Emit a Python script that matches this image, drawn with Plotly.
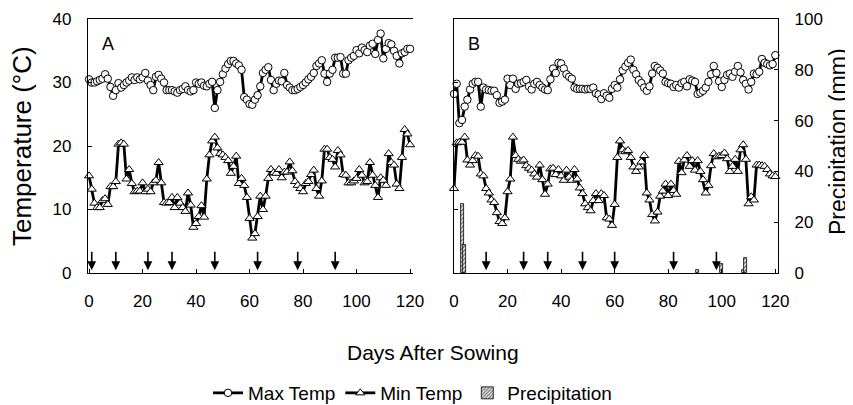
import plotly.graph_objects as go

# ---------------- data ----------------
days = list(range(0, 121))

max_temp_A = [30.5,30.0,30.0,30.2,30.4,30.6,31.3,30.6,29.3,27.9,
              28.8,29.9,29.2,29.6,30.0,30.3,30.8,30.4,30.8,30.5,
              30.8,31.5,30.3,29.6,28.8,30.9,31.2,30.6,30.0,28.8,
              28.8,28.8,28.6,28.4,28.8,29.0,29.4,28.8,28.6,28.8,
              30.0,29.8,30.0,29.5,29.4,29.8,30.1,26.0,28.8,30.1,
              31.3,32.2,32.9,33.4,33.4,33.0,32.7,32.0,27.7,27.3,
              26.6,26.5,27.3,28.0,29.4,31.5,32.0,32.4,30.4,28.8,
              29.8,30.3,30.2,31.5,29.6,29.2,28.8,28.8,29.0,29.3,
              29.6,30.0,30.5,30.9,31.5,32.6,33.0,33.5,31.4,30.1,
              31.4,32.0,33.9,33.9,34.0,31.4,31.4,33.5,33.9,34.2,
              35.1,34.6,35.5,35.1,34.8,35.8,36.1,34.5,36.7,37.7,
              33.8,35.3,36.2,36.0,35.0,34.2,33.0,34.6,34.8,35.3,
              35.3]

min_temp_A = [15.3,13.2,11.0,10.3,10.3,11.4,11.7,10.8,13.6,13.6,
              14.4,20.3,20.5,20.3,14.8,16.3,14.1,12.8,12.9,12.9,
              14.2,12.8,13.2,12.8,14.2,14.6,17.4,14.2,11.1,11.0,
              11.1,11.9,10.3,11.9,11.0,10.3,9.7,12.6,10.7,7.2,
              7.8,8.9,10.6,8.8,14.8,18.6,20.8,21.4,19.7,18.8,
              18.6,18.2,17.7,15.7,16.8,18.4,14.1,14.9,13.8,11.9,
              8.6,5.5,6.2,8.9,12.1,10.0,12.1,14.9,16.3,15.8,
              15.7,16.3,15.0,15.9,15.9,17.5,16.1,14.4,13.8,13.3,
              12.8,14.1,14.4,15.5,16.2,13.3,12.1,14.5,19.5,19.5,
              18.2,17.9,16.7,19.3,18.6,15.5,15.4,14.2,14.2,14.5,
              14.9,16.3,15.4,14.2,14.4,17.4,15.4,13.8,11.9,15.0,
              14.6,13.8,18.8,17.4,17.0,14.0,13.3,18.2,22.6,21.9,
              20.2]

max_temp_B = [28.2,29.8,23.6,24.1,26.2,27.3,28.9,29.8,30.1,30.1,
              26.2,29.2,28.9,28.8,28.7,28.7,28.0,26.8,27.0,27.3,
              30.6,29.6,30.6,29.0,29.8,29.9,30.1,30.4,29.4,28.9,
              29.8,30.1,29.6,29.2,28.9,28.8,30.5,32.2,31.5,33.1,
              33.0,32.2,31.3,30.9,30.6,29.2,29.0,29.0,29.0,28.9,
              29.0,29.0,29.2,28.3,28.1,27.4,28.3,27.9,27.6,29.0,
              29.6,29.2,30.5,31.9,32.5,33.1,33.6,32.0,31.3,30.4,
              29.9,29.2,28.7,29.4,31.4,32.6,32.3,31.9,31.4,30.1,
              29.9,29.8,29.3,29.6,29.2,29.9,30.1,29.4,30.5,30.3,
              30.1,28.2,28.4,28.7,29.2,30.1,31.3,32.6,31.5,30.2,
              29.3,30.4,31.2,31.4,30.9,31.7,32.6,31.6,30.4,29.8,
              28.9,30.1,31.4,31.3,31.7,33.7,33.1,32.9,32.7,32.9,
              34.3]

min_temp_B = [13.3,20.5,20.6,20.6,21.4,17.8,17.0,17.7,18.5,18.4,
              15.6,15.3,13.3,12.6,11.5,11.1,9.5,8.1,7.8,8.7,
              12.8,14.8,21.4,18.5,17.9,17.6,17.8,16.9,16.5,16.2,
              15.6,15.1,17.0,14.7,12.4,14.0,16.4,16.5,15.5,16.3,
              15.3,14.6,16.2,15.1,14.6,16.3,14.8,13.4,12.5,10.9,
              10.3,9.8,11.4,12.5,11.4,12.5,12.2,8.7,8.5,7.5,
              10.8,18.2,20.8,19.4,19.1,19.3,18.2,16.7,16.0,16.7,
              17.5,18.5,12.6,11.5,9.2,8.2,9.6,12.1,12.9,14.0,
              12.2,14.0,13.0,12.4,17.6,15.8,17.8,18.5,16.8,17.7,
              16.2,17.7,16.0,14.7,12.6,13.8,16.9,18.8,18.3,18.4,
              18.5,18.9,18.0,16.0,16.8,17.9,16.0,19.4,20.2,17.9,
              10.9,12.0,11.5,17.0,17.0,16.9,16.8,16.3,15.6,15.3,
              15.2]

precip_days_B = [3, 4, 91, 100, 108, 109]
precip_B = [27.0, 11.0, 1.0, 3.5, 1.0, 6.0]

arrow_days_A = [1, 10, 22, 31, 47, 63, 78, 92]
arrow_days_B = [12, 26, 35, 48, 60, 82, 98]

x_ticks = [0, 20, 40, 60, 80, 100, 120]
temp_ticks = [0, 10, 20, 30, 40]
precip_ticks = [0, 20, 40, 60, 80, 100]

# ---------------- layout helpers ----------------
# the page body has an 8px margin, so the figure is drawn 8px smaller and
# screen positions are converted to paper fractions accordingly
OFF = 8
W, H = 853 - OFF, 405 - OFF


def fx(px):
    return (px - OFF) / W


def fy(py):
    return 1 - (py - OFF) / H


FONT = "Arial, Liberation Sans, sans-serif"
dom_y = [fy(273), fy(19)]
dom_xA = [fx(88), fx(413)]
dom_xB = [fx(454), fx(778)]

line_style = dict(color="black", width=2.8)
circ = dict(symbol="circle", size=7.5, color="white", line=dict(color="black", width=1))
tri = dict(symbol="triangle-up", size=8, color="white", line=dict(color="black", width=1))

fig = go.Figure()

fig.add_trace(go.Scatter(x=days, y=max_temp_A, xaxis="x", yaxis="y", mode="lines+markers",
                         name="Max Temp", legendgroup="max", line=line_style, marker=circ,
                         cliponaxis=False))
fig.add_trace(go.Scatter(x=days, y=min_temp_A, xaxis="x", yaxis="y", mode="lines+markers",
                         name="Min Temp", legendgroup="min", line=line_style, marker=tri,
                         cliponaxis=False))
fig.add_trace(go.Bar(x=precip_days_B, y=precip_B, xaxis="x2", yaxis="y4", name="Precipitation",
                     width=1.1,
                     marker=dict(color="white", line=dict(color="black", width=0.8),
                                 pattern=dict(shape="/", fgcolor="black", bgcolor="white",
                                              size=3, solidity=0.6))))
fig.add_trace(go.Scatter(x=days, y=max_temp_B, xaxis="x2", yaxis="y2", mode="lines+markers",
                         name="Max Temp", legendgroup="max", showlegend=False,
                         line=line_style, marker=circ, cliponaxis=False))
fig.add_trace(go.Scatter(x=days, y=min_temp_B, xaxis="x2", yaxis="y2", mode="lines+markers",
                         name="Min Temp", legendgroup="min", showlegend=False,
                         line=line_style, marker=tri, cliponaxis=False))

axis_common = dict(showline=True, linecolor="black", linewidth=1.3, ticks="inside",
                   ticklen=4, tickcolor="black", tickwidth=1, showgrid=False, zeroline=False,
                   automargin=False,
                   tickfont=dict(family=FONT, size=17, color="black"))

annotations = []
for d in arrow_days_A:
    annotations.append(dict(x=d, y=0.45, xref="x", yref="y", ax=d, ay=3.6, axref="x", ayref="y",
                            text="", showarrow=True, arrowhead=2, arrowsize=1.1, arrowwidth=1.6,
                            arrowcolor="black", standoff=0))
for d in arrow_days_B:
    annotations.append(dict(x=d, y=0.45, xref="x2", yref="y2", ax=d, ay=3.6, axref="x2", ayref="y2",
                            text="", showarrow=True, arrowhead=2, arrowsize=1.1, arrowwidth=1.6,
                            arrowcolor="black", standoff=0))


def txt(text, px, py, size, angle=0):
    return dict(text=text, x=fx(px), y=fy(py), xref="paper", yref="paper",
                xanchor="center", yanchor="middle", showarrow=False, textangle=angle,
                font=dict(family=FONT, size=size, color="black"))


annotations += [
    txt("A", 108, 44, 18),
    txt("B", 474, 44, 18),
    txt("Temperature (°C)", 22, 146, 26, -90),
    txt("Precipitation (mm)", 838, 142, 23, -90),
    txt("Days After Sowing", 433, 352, 21),
]

fig.update_layout(
    width=W, height=H, autosize=False,
    margin=dict(l=0, r=0, t=0, b=0, pad=0, autoexpand=False),
    paper_bgcolor="white", plot_bgcolor="white",
    font=dict(family=FONT, size=17, color="black"),
    xaxis=dict(domain=dom_xA, anchor="y", range=[-0.4, 121.1], tickvals=x_ticks,
               mirror=True, ticklabelstandoff=12, **axis_common),
    yaxis=dict(domain=dom_y, anchor="x", range=[0, 40], tickvals=temp_ticks,
               ticklabelstandoff=12, **axis_common),
    yaxis3=dict(overlaying="y", anchor="x", side="right", range=[0, 100], tickvals=precip_ticks,
                showticklabels=False, **axis_common),
    xaxis2=dict(domain=dom_xB, anchor="y2", range=[0, 121], tickvals=x_ticks,
                mirror=True, ticklabelstandoff=12, **axis_common),
    yaxis2=dict(domain=dom_y, anchor="x2", range=[0, 40], tickvals=temp_ticks,
                showticklabels=False, **axis_common),
    yaxis4=dict(overlaying="y2", anchor="x2", side="right", range=[0, 100], tickvals=precip_ticks,
                ticklabelstandoff=12, **axis_common),
    showlegend=True,
    legend=dict(orientation="h", x=fx(208), xanchor="left", y=fy(393), yanchor="middle",
                font=dict(family=FONT, size=19, color="black"), itemwidth=30,
                bgcolor="rgba(0,0,0,0)", traceorder="normal"),
    annotations=annotations,
    bargap=0,
)

fig.write_html("out.html")
